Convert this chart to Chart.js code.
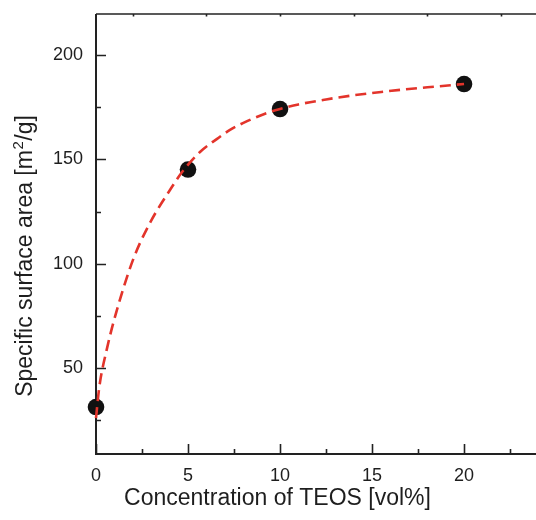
<!DOCTYPE html>
<html>
<head>
<meta charset="utf-8">
<script src="https://cdn.jsdelivr.net/npm/chart.js@4/dist/chart.umd.min.js"></script>
<style>
  html, body { margin: 0; padding: 0; background: #fff; }
  #wrap { width: 536px; height: 520px; }
</style>
</head>
<body>
<div id="wrap"><canvas id="myChart" width="536" height="520"></canvas></div>
<script>
// measured values
var teos = [0, 5, 10, 20];
var area = [31.3, 145.1, 174.1, 186.1];

// dashed fit curve
var fitX = [0, 0.18, 0.58, 1.03, 2.01, 2.93, 4.02, 4.67, 5.65, 6.58, 7.28, 8.21, 9.29, 10, 11, 12.5, 14, 15.5, 17, 18.5, 20];
var fitY = [26, 40.9, 58.7, 74.5, 101.8, 119.5, 135.3, 143.8, 153.5, 159.8, 164.1, 168.3, 172.2, 174.1, 176.3, 178.7, 180.7, 182.3, 183.7, 184.9, 186.1];

var xTicks = [0, 5, 10, 15, 20];
var xMinor = [2.5, 7.5, 12.5, 17.5, 22.5];
var xTopTicks = [2, 6, 10, 14, 18, 22];
var yTicks = [50, 100, 150, 200];
var yMinor = [25, 75, 125, 175];

var FONT = '"Liberation Sans", Arial, sans-serif';

function toPoints(xs, ys){
  var out = [];
  for (var i = 0; i < xs.length; i++) out.push({x: xs[i], y: ys[i]});
  return out;
}

function noPad(s){
  s.paddingTop = 0; s.paddingBottom = 0; s.paddingLeft = 0; s.paddingRight = 0;
}

// axes drawn by hand: inward ticks, top line, no right line
var frame = {
  id: 'frame',
  beforeDatasetsDraw: function(chart){
    var c = chart.ctx, a = chart.chartArea;
    var xs = chart.scales.x, ys = chart.scales.y;
    var i, p;
    c.save();
    c.strokeStyle = '#222';
    c.lineWidth = 2;
    c.beginPath();
    c.moveTo(a.left, a.top);
    c.lineTo(a.left, a.bottom);
    c.lineTo(a.right, a.bottom);
    c.stroke();
    c.lineWidth = 1.5;
    c.beginPath();
    c.moveTo(a.left, a.top);
    c.lineTo(a.right, a.top);
    c.stroke();

    c.lineWidth = 1.6;
    c.beginPath();
    for (i = 0; i < xTicks.length; i++){
      p = Math.round(xs.getPixelForValue(xTicks[i])) + 0.5;
      c.moveTo(p, a.bottom); c.lineTo(p, a.bottom - 10);
    }
    for (i = 0; i < xMinor.length; i++){
      p = Math.round(xs.getPixelForValue(xMinor[i])) + 0.5;
      c.moveTo(p, a.bottom); c.lineTo(p, a.bottom - 5);
    }
    for (i = 0; i < xTopTicks.length; i++){
      p = Math.round(xs.getPixelForValue(xTopTicks[i])) + 0.5;
      c.moveTo(p, a.top); c.lineTo(p, a.top + 2.5);
    }
    for (i = 0; i < yTicks.length; i++){
      p = Math.round(ys.getPixelForValue(yTicks[i])) + 0.5;
      c.moveTo(a.left, p); c.lineTo(a.left + 10, p);
    }
    for (i = 0; i < yMinor.length; i++){
      p = Math.round(ys.getPixelForValue(yMinor[i])) + 0.5;
      c.moveTo(a.left, p); c.lineTo(a.left + 5, p);
    }
    c.stroke();
    c.restore();
  },
  afterDraw: function(chart){
    var c = chart.ctx;
    c.save();
    c.fillStyle = '#1e1e1e';
    c.textBaseline = 'alphabetic';
    // x title
    c.font = '23px ' + FONT;
    c.textAlign = 'center';
    c.fillText('Concentration of TEOS [vol%]', 277.5, 505);

    // y title with superscript
    var big = '23px ' + FONT, small = '15px ' + FONT;
    var s1 = 'Specific surface area [m', s2 = '2', s3 = '/g]';
    c.font = big;
    var w1 = c.measureText(s1).width, w3 = c.measureText(s3).width;
    c.font = small;
    var w2 = c.measureText(s2).width + 1;
    var total = w1 + w2 + w3;
    c.translate(32, 256);
    c.rotate(-Math.PI / 2);
    c.textAlign = 'left';
    var x0 = -total / 2;
    c.font = big;
    c.fillText(s1, x0, 0);
    c.font = small;
    c.fillText(s2, x0 + w1 + 0.5, -9);
    c.font = big;
    c.fillText(s3, x0 + w1 + w2, 0);
    c.restore();
  }
};

var ctx = document.getElementById('myChart').getContext('2d');
var chart = new Chart(ctx, {
  type: 'scatter',
  data: {
    datasets: [
      {
        label: 'fit',
        data: toPoints(fitX, fitY),
        showLine: true,
        borderColor: '#e3342b',
        borderWidth: 2.6,
        borderDash: [11, 6],
        pointRadius: 0,
        cubicInterpolationMode: 'monotone',
        clip: false,
        order: 0
      },
      {
        label: 'data',
        data: toPoints(teos, area),
        pointRadius: 8.3,
        pointBackgroundColor: '#111',
        pointBorderColor: '#111',
        pointBorderWidth: 0,
        clip: false,
        order: 1
      }
    ]
  },
  options: {
    responsive: false,
    animation: false,
    layout: { autoPadding: false, padding: { top: 14, right: 0, left: 0, bottom: 0 } },
    plugins: {
      legend: { display: false },
      tooltip: { enabled: false }
    },
    scales: {
      x: {
        type: 'linear',
        min: 0,
        max: 23.91,
        afterFit: function(s){ s.height = 66; noPad(s); },
        afterBuildTicks: function(s){ s.ticks = xTicks.map(function(v){ return {value: v}; }); },
        grid: { display: false, drawTicks: false },
        border: { display: false },
        ticks: { padding: 11, color: '#1e1e1e', font: { family: FONT, size: 18 } }
      },
      y: {
        type: 'linear',
        min: 8.79,
        max: 219.65,
        afterFit: function(s){ s.width = 96; noPad(s); },
        afterBuildTicks: function(s){ s.ticks = yTicks.map(function(v){ return {value: v}; }); },
        grid: { display: false, drawTicks: false },
        border: { display: false },
        ticks: { padding: 13, color: '#1e1e1e', font: { family: FONT, size: 18 } }
      }
    }
  },
  plugins: [frame]
});
</script>
</body>
</html>
